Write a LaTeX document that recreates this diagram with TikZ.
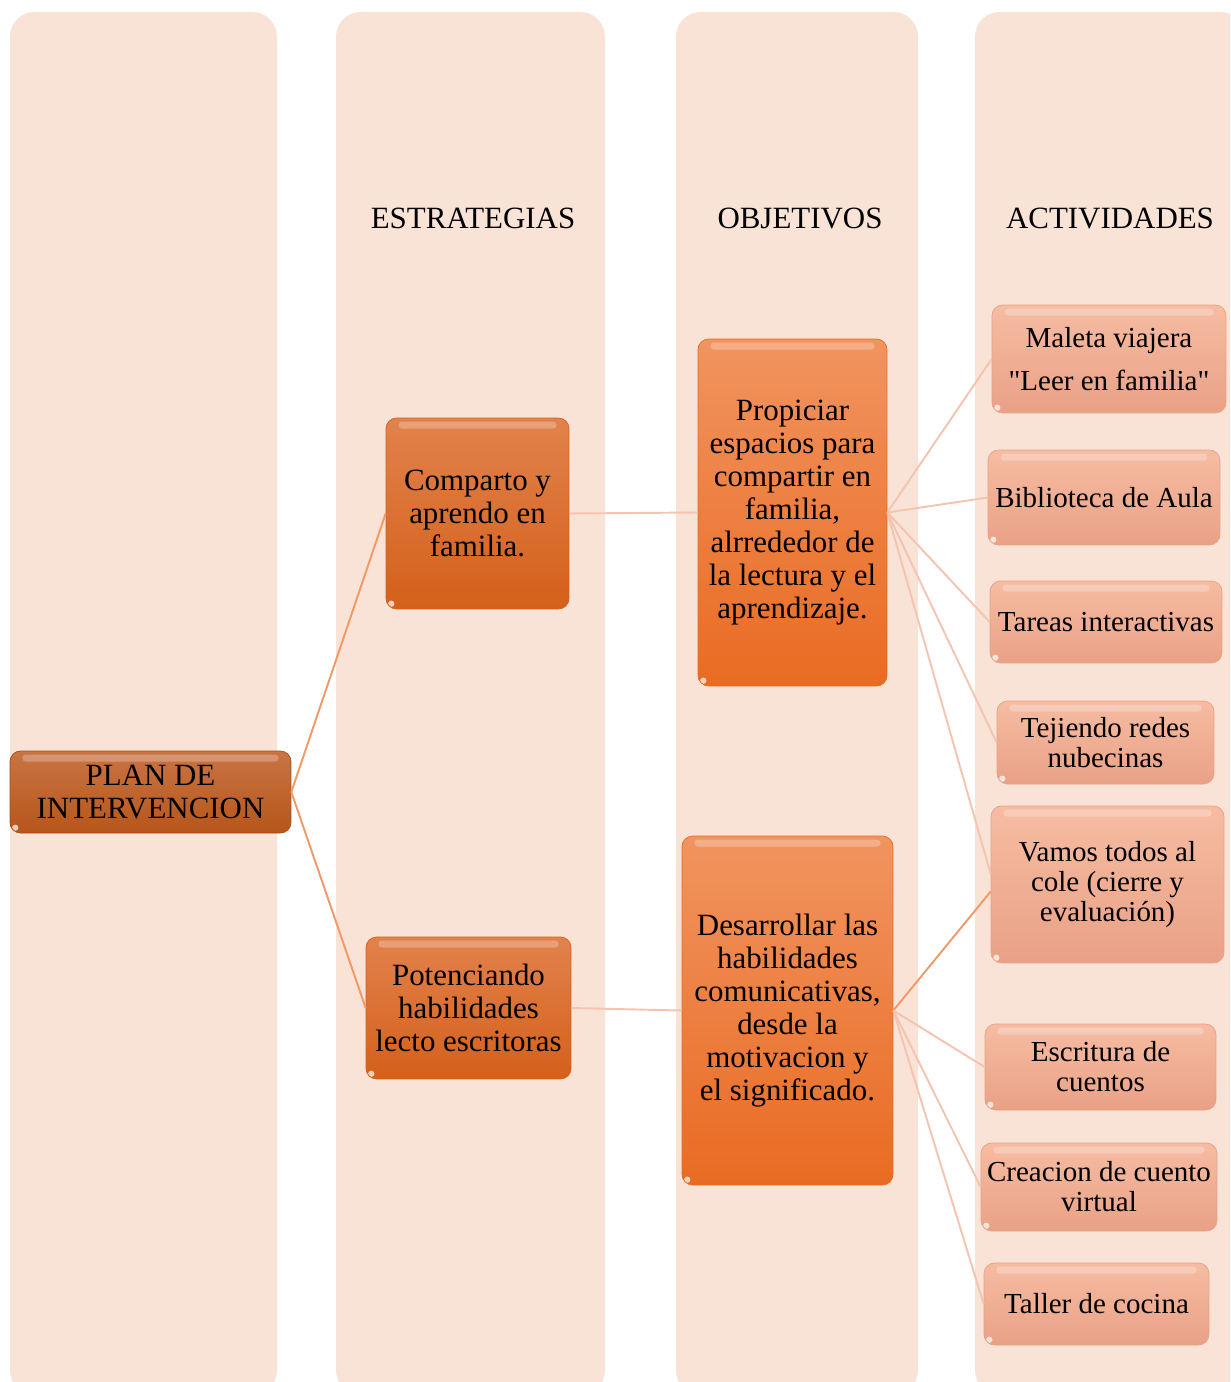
\documentclass[tikz,border=0pt]{standalone}
\usepackage{fontspec}
\setmainfont{Liberation Serif}
\usetikzlibrary{positioning}
\definecolor{cBAR}{HTML}{F8E3D6}
\definecolor{cPLANt}{HTML}{C97444}
\definecolor{cPLANb}{HTML}{B6561A}
\definecolor{cESTt}{HTML}{E2824C}
\definecolor{cESTb}{HTML}{D4601A}
\definecolor{cOBJt}{HTML}{F19460}
\definecolor{cOBJb}{HTML}{E96B22}
\definecolor{cACTt}{HTML}{F6BCA2}
\definecolor{cACTb}{HTML}{E9A186}
\definecolor{cLINK}{HTML}{F09A68}
\definecolor{cPALE}{HTML}{F5C4B0}

\begin{document}
\begin{tikzpicture}[
  x=0.02cm, y=-0.02cm,
  bar/.style={fill=cBAR, rounded corners=14pt},
  head/.style={font=\fontsize{17.6}{18.7}\selectfont, inner sep=0pt},
  box/.style={rounded corners=6pt, align=center, inner sep=1pt,
    font=\fontsize{17.6}{18.7}\selectfont,
    path picture={
      \fill[white, opacity=0.25, rounded corners=2pt]
        ([xshift=7pt, yshift=-2pt]path picture bounding box.north west) rectangle
        ([xshift=-7pt, yshift=-6pt]path picture bounding box.north east);
      \fill[white, opacity=0.7]
        ([xshift=3pt, yshift=3pt]path picture bounding box.south west) circle (1.8pt);
    }},
  plan/.style={box, top color=cPLANt, bottom color=cPLANb, draw=cPLANb!90!black},
  estr/.style={box, top color=cESTt, bottom color=cESTb, draw=cESTb},
  obj/.style={box, top color=cOBJt, bottom color=cOBJb, draw=cOBJb},
  act/.style={box, top color=cACTt, bottom color=cACTb, draw=cACTb,
    font=\fontsize{16.5}{17}\selectfont},
  link/.style={draw=cLINK, line width=1.1pt},
  pale/.style={draw=cPALE, line width=1.1pt}
]
\clip (0,0) rectangle (1230,1382);
\useasboundingbox (0,0) rectangle (1230,1382);

% columnas de fondo
\fill[bar] (10,12) rectangle (277,1395);
\fill[bar] (336,12) rectangle (605,1395);
\fill[bar] (676,12) rectangle (918,1395);
\fill[bar] (975,12) rectangle (1245,1395);

% titulos
\node[head] (hEst) at (473,218) {ESTRATEGIAS};
\node[head] (hObj) at (800,218) {OBJETIVOS};
\node[head] (hAct) at (1110,218) {ACTIVIDADES};

% plan
\node[plan, minimum width=5.62cm, minimum height=1.64cm] (plan) at (150.5,792)
  {PLAN DE\\INTERVENCION};

% estrategias
\node[estr, minimum width=3.66cm, minimum height=3.82cm] (comp) at (477.5,513.5)
  {Comparto y\\aprendo en\\familia.};
\node[estr, minimum width=4.1cm, minimum height=2.84cm] (pot) at (468.5,1008)
  {Potenciando\\habilidades\\lecto escritoras};

% objetivos
\node[obj, minimum width=3.78cm, minimum height=6.94cm] (prop) at (792.5,512.5)
  {Propiciar\\espacios para\\compartir en\\familia,\\alrrededor de\\la lectura y el\\aprendizaje.};
\node[obj, minimum width=4.22cm, minimum height=6.98cm] (des) at (787.5,1010.5)
  {Desarrollar las\\habilidades\\comunicativas,\\desde la\\motivacion y\\el significado.};

% actividades
\node[act, minimum width=4.68cm, minimum height=2.16cm] (mal) at (1109,359)
  {Maleta viajera\\[7pt]\textquotedbl Leer en familia\textquotedbl};
\node[act, minimum width=4.64cm, minimum height=1.9cm] (bib) at (1104,497.5)
  {Biblioteca de Aula};
\node[act, minimum width=4.64cm, minimum height=1.64cm] (tar) at (1106,622)
  {Tareas interactivas};
\node[act, minimum width=4.34cm, minimum height=1.66cm] (tej) at (1105.5,742.5)
  {Tejiendo redes\\nubecinas};
\node[act, minimum width=4.66cm, minimum height=3.14cm] (vam) at (1107.5,884.5)
  {Vamos todos al\\cole (cierre y\\evaluación)};
\node[act, minimum width=4.62cm, minimum height=1.72cm] (esc) at (1100.5,1067)
  {Escritura de\\cuentos};
\node[act, minimum width=4.72cm, minimum height=1.76cm] (cre) at (1099,1187)
  {Creacion de cuento\\virtual};
\node[act, minimum width=4.5cm, minimum height=1.64cm] (tal) at (1096.5,1304)
  {Taller de cocina};

% conectores
\draw[link] (plan.east) -- (comp.west);
\draw[link] (plan.east) -- (pot.west);
\draw[pale] (comp.east) -- (prop.west);
\draw[pale] (pot.east) -- (des.west);
\foreach \a in {mal,bib,tar,tej}
  \draw[pale] (prop.east) -- (\a.west);
\draw[pale] (prop.east) -- ([yshift=6pt]vam.west);
\draw[link] (des.east) -- ([yshift=-4pt]vam.west);
\foreach \a in {esc,cre,tal}
  \draw[pale] (des.east) -- (\a.west);
\end{tikzpicture}
\end{document}
